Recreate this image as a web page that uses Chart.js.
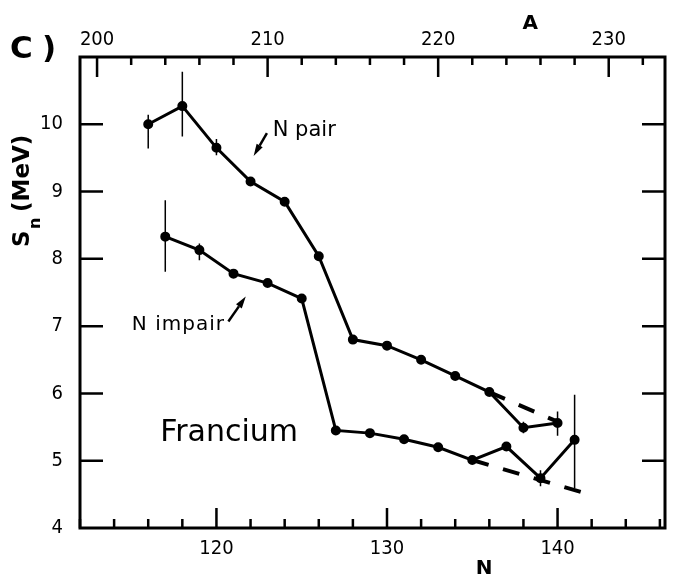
<!DOCTYPE html>
<html>
<head>
<meta charset="utf-8">
<script src="https://cdn.jsdelivr.net/npm/chart.js@4.4.0/dist/chart.umd.min.js"></script>
<style>
  html, body { margin: 0; padding: 0; background: #fff; }
  #wrap { width: 674px; height: 578px; }
</style>
</head>
<body>
<div id="wrap"><canvas id="snChart"></canvas></div>
<script>
// Francium, Z = 87 -> A = N + 87
const Z = 87;

// N pair (even N)
const pairN  = [116, 118, 120, 122, 124, 126, 128, 130, 132, 134, 136, 138, 140];
const pairSn = [10.0, 10.27, 9.65, 9.15, 8.85, 8.04, 6.80, 6.71, 6.50, 6.26, 6.02, 5.49, 5.56];
const pairErrLo = [9.64, 9.82, 9.54, null, null, null, null, null, null, null, null, 5.41, 5.37];
const pairErrHi = [10.14, 10.78, 9.78, null, null, null, null, null, null, null, null, 5.58, 5.73];

// N impair (odd N)
const impairN  = [117, 119, 121, 123, 125, 127, 129, 131, 133, 135, 137, 139, 141];
const impairSn = [8.33, 8.13, 7.78, 7.64, 7.41, 5.45, 5.41, 5.32, 5.20, 5.01, 5.21, 4.74, 5.31];
const impairErrLo = [7.81, 7.98, null, null, null, null, null, null, null, null, null, 4.62, 4.59];
const impairErrHi = [8.87, 8.23, null, null, null, null, null, null, null, null, null, 4.86, 5.98];

// dashed trend lines
const pairTrendN  = [136, 140];
const pairTrendSn = [6.02, 5.58];
const impairTrendN  = [135, 141.7];
const impairTrendSn = [5.01, 4.51];

// axis ranges and labelled ticks
const nRange  = [112, 146.3];
const snRange = [4, 11];
const nLabels  = [120, 130, 140];
const aLabels  = [200, 210, 220, 230];
const snLabels = [4, 5, 6, 7, 8, 9, 10];

function pts(xs, ys) {
  return xs.map((x, i) => ({ x: x, y: ys[i] }));
}

const tickFont = { family: "'DejaVu Sans Condensed', 'DejaVu Sans', sans-serif", size: 20 };

const errorBars = {
  id: "errorBars",
  afterDatasetsDraw(chart) {
    const ctx = chart.ctx;
    const x = chart.scales.x, y = chart.scales.y;
    const sets = [[pairN, pairErrLo, pairErrHi], [impairN, impairErrLo, impairErrHi]];
    ctx.save();
    ctx.strokeStyle = "#000";
    ctx.lineWidth = 1.5;
    ctx.beginPath();
    sets.forEach(([ns, lo, hi]) => {
      ns.forEach((n, i) => {
        if (lo[i] == null) return;
        const px = x.getPixelForValue(n);
        ctx.moveTo(px, y.getPixelForValue(lo[i]));
        ctx.lineTo(px, y.getPixelForValue(hi[i]));
      });
    });
    ctx.stroke();
    ctx.restore();
  }
};

function arrow(ctx, x0, y0, x1, y1) {
  const ang = Math.atan2(y1 - y0, x1 - x0);
  const headLen = 12, headW = 3.5;
  ctx.beginPath();
  ctx.moveTo(x0, y0);
  ctx.lineTo(x1 - Math.cos(ang) * headLen, y1 - Math.sin(ang) * headLen);
  ctx.stroke();
  ctx.beginPath();
  ctx.moveTo(x1, y1);
  ctx.lineTo(x1 - Math.cos(ang) * headLen - Math.sin(ang) * headW, y1 - Math.sin(ang) * headLen + Math.cos(ang) * headW);
  ctx.lineTo(x1 - Math.cos(ang) * headLen + Math.sin(ang) * headW, y1 - Math.sin(ang) * headLen - Math.cos(ang) * headW);
  ctx.closePath();
  ctx.fill();
}

const frameAndNotes = {
  id: "frameAndNotes",
  afterDraw(chart) {
    const ctx = chart.ctx;
    const { left, right, top, bottom } = chart.chartArea;
    const x = chart.scales.x, xA = chart.scales.xA, y = chart.scales.y;
    ctx.save();
    ctx.strokeStyle = "#000";
    ctx.fillStyle = "#000";

    // frame
    ctx.lineWidth = 3;
    ctx.strokeRect(left, top, right - left, bottom - top);

    // inward ticks
    ctx.lineWidth = 2.5;
    ctx.beginPath();
    x.ticks.forEach(t => {
      const px = x.getPixelForValue(t.value);
      const len = nLabels.includes(t.value) ? 20 : 9;
      ctx.moveTo(px, bottom);
      ctx.lineTo(px, bottom - len);
    });
    xA.ticks.forEach(t => {
      const px = xA.getPixelForValue(t.value);
      const len = aLabels.includes(t.value) ? 20 : 8;
      ctx.moveTo(px, top);
      ctx.lineTo(px, top + len);
    });
    y.ticks.forEach(t => {
      if (t.value <= snRange[0] || t.value >= snRange[1]) return;
      const py = y.getPixelForValue(t.value);
      ctx.moveTo(left, py);
      ctx.lineTo(left + 23, py);
      ctx.moveTo(right, py);
      ctx.lineTo(right - 23, py);
    });
    ctx.stroke();

    // axis letters
    ctx.font = "bold 20px 'DejaVu Sans', sans-serif";
    ctx.textAlign = "center";
    ctx.textBaseline = "alphabetic";
    ctx.fillText("A", xA.getPixelForValue(225.4), 29);
    ctx.fillText("N", x.getPixelForValue(135.7), 574);

    ctx.font = "bold 31px 'DejaVu Sans', sans-serif";
    ctx.textAlign = "left";
    ctx.fillText("C", 10, 58);
    ctx.fillText(")", 42, 58);

    // y title with subscript
    ctx.save();
    ctx.translate(28.5, 247);
    ctx.rotate(-Math.PI / 2);
    ctx.font = "bold 23px 'DejaVu Sans', sans-serif";
    ctx.fillText("S", 0, 0);
    ctx.font = "bold 16px 'DejaVu Sans', sans-serif";
    ctx.fillText("n", 18, 11);
    ctx.font = "bold 23px 'DejaVu Sans', sans-serif";
    ctx.fillText("(MeV)", 35, 0);
    ctx.restore();

    // annotations
    ctx.font = "21px 'DejaVu Sans', sans-serif";
    ctx.fillText("N pair", x.getPixelForValue(123.3), y.getPixelForValue(9.82));
    ctx.font = "20px 'DejaVu Sans', sans-serif";
    ctx.letterSpacing = "1px";
    ctx.fillText("N impair", x.getPixelForValue(115.04), y.getPixelForValue(6.94));
    ctx.letterSpacing = "0px";
    ctx.font = "30px 'DejaVu Sans', sans-serif";
    ctx.fillText("Francium", x.getPixelForValue(116.7), y.getPixelForValue(5.30));

    ctx.lineWidth = 2.5;
    arrow(ctx, x.getPixelForValue(122.96), y.getPixelForValue(9.87),
               x.getPixelForValue(122.18), y.getPixelForValue(9.53));
    arrow(ctx, x.getPixelForValue(120.7), y.getPixelForValue(7.07),
               x.getPixelForValue(121.72), y.getPixelForValue(7.44));
    ctx.restore();
  }
};

const lineStyle = {
  borderColor: "#000",
  backgroundColor: "#000",
  borderWidth: 3,
  pointRadius: 3.5,
  pointHoverRadius: 3.5,
  pointBackgroundColor: "#000",
  tension: 0
};

const dashStyle = {
  borderColor: "#000",
  borderWidth: 4,
  borderDash: [17, 15],
  pointRadius: 0,
  tension: 0
};

new Chart(document.getElementById("snChart"), {
  type: "line",
  data: {
    datasets: [
      Object.assign({ label: "N pair", data: pts(pairN, pairSn) }, lineStyle),
      Object.assign({ label: "N impair", data: pts(impairN, impairSn) }, lineStyle),
      Object.assign({ label: "pair trend", data: pts(pairTrendN, pairTrendSn) }, dashStyle),
      Object.assign({ label: "impair trend", data: pts(impairTrendN, impairTrendSn) }, dashStyle)
    ]
  },
  options: {
    responsive: true,
    maintainAspectRatio: false,
    animation: false,
    layout: { padding: { left: 0, right: 9, top: 0, bottom: 0 } },
    plugins: { legend: { display: false }, tooltip: { enabled: false } },
    scales: {
      x: {
        type: "linear",
        position: "bottom",
        min: nRange[0],
        max: nRange[1],
        grid: { display: false, drawTicks: false },
        border: { display: false },
        ticks: {
          stepSize: 2,
          autoSkip: false,
          includeBounds: false,
          maxRotation: 0,
          color: "#000",
          font: tickFont,
          padding: 9,
          callback: v => nLabels.includes(v) ? String(v) : ""
        },
        afterFit: s => { s.height = 50; }
      },
      xA: {
        type: "linear",
        position: "top",
        min: nRange[0] + Z,
        max: nRange[1] + Z,
        grid: { display: false, drawTicks: false },
        border: { display: false },
        ticks: {
          stepSize: 2,
          autoSkip: false,
          includeBounds: false,
          maxRotation: 0,
          color: "#000",
          font: tickFont,
          padding: 5,
          callback: v => aLabels.includes(v) ? String(v) : ""
        },
        afterFit: s => { s.height = 57; }
      },
      y: {
        type: "linear",
        position: "left",
        min: snRange[0],
        max: snRange[1],
        grid: { display: false, drawTicks: false },
        border: { display: false },
        ticks: {
          stepSize: 1,
          autoSkip: false,
          color: "#000",
          font: tickFont,
          padding: 17,
          callback: v => snLabels.includes(v) ? String(v) : ""
        },
        afterFit: s => { s.width = 80; }
      }
    }
  },
  plugins: [errorBars, frameAndNotes]
});
</script>
</body>
</html>
